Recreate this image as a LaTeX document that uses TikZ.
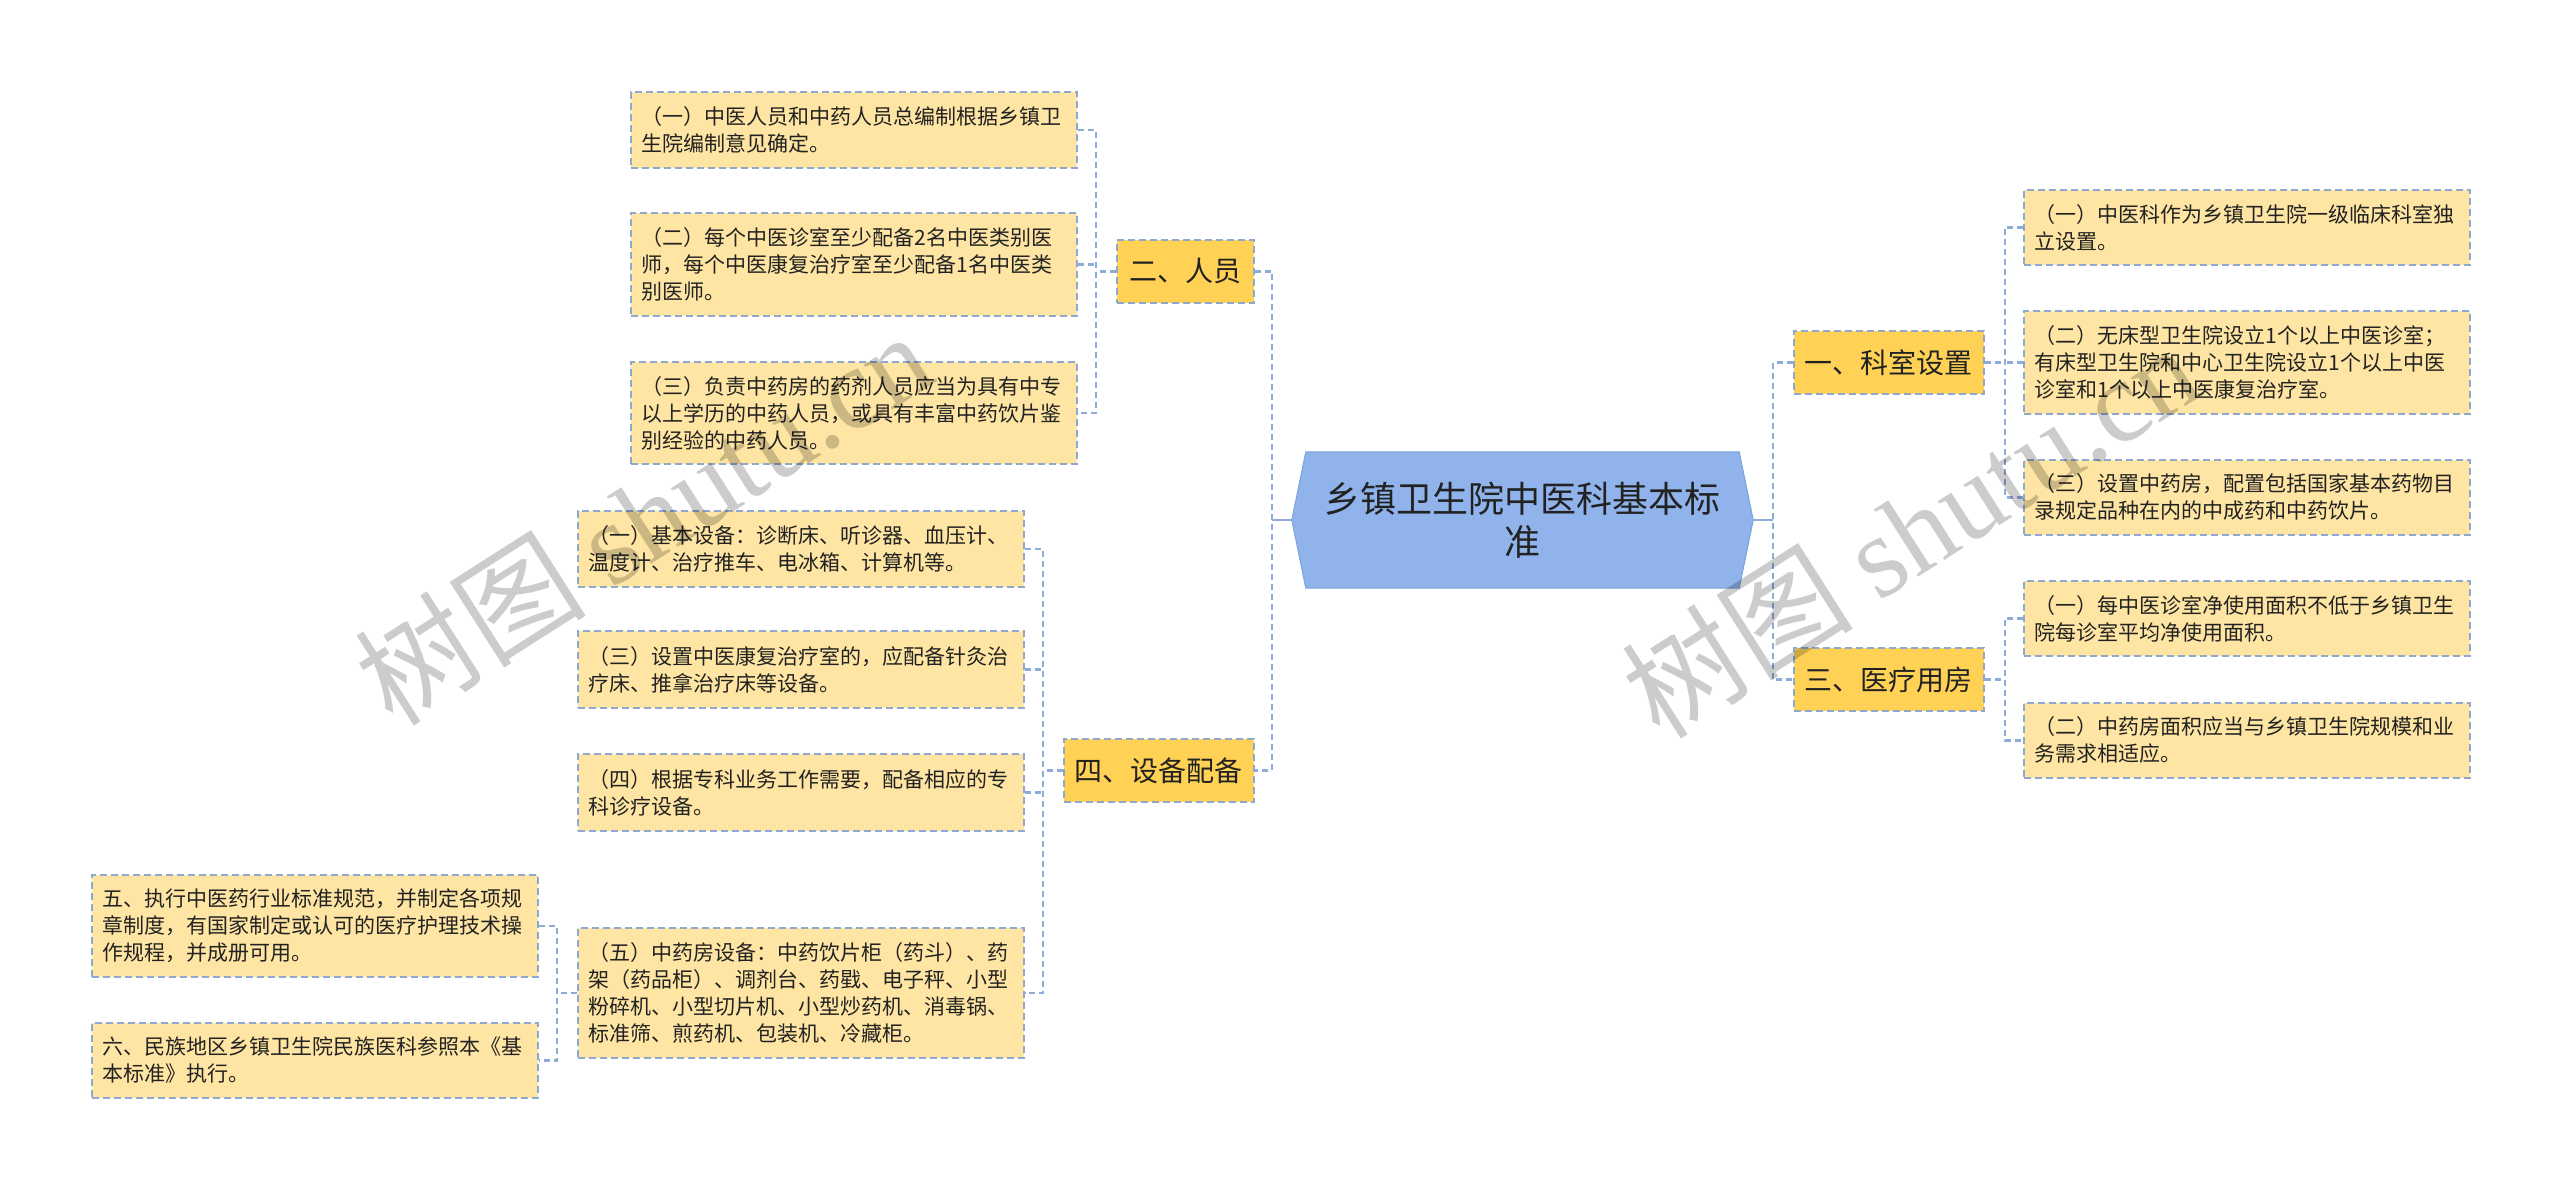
\documentclass[tikz,border=0pt]{standalone}
\usepackage{fontspec}
\setmainfont{Noto Sans CJK SC}
\newfontfamily\wmserif{Liberation Serif}
\usetikzlibrary{calc,backgrounds}
\definecolor{leaffill}{HTML}{FEE5A3}
\definecolor{nodefill}{HTML}{FFD255}
\definecolor{centerfill}{HTML}{8FB3EA}
\definecolor{centerline}{HTML}{7DA2DE}
\definecolor{bordc}{HTML}{8EA8D0}
\definecolor{connc}{HTML}{8FABD7}
\definecolor{txt}{HTML}{222222}
\begin{document}
\begin{tikzpicture}[x=1pt,y=-1pt,
 leafbox/.style={draw=bordc, line width=1.8pt, dash pattern=on 7pt off 4pt, fill=leaffill,
   anchor=north west, inner xsep=11pt, inner ysep=0pt, text width=424pt, align=left,
   minimum height=#1, font=\fontsize{21}{27}\selectfont, text=txt},
 topicbox/.style={draw=bordc, line width=1.8pt, dash pattern=on 7pt off 4pt, fill=nodefill,
   anchor=north west, inner sep=0pt, minimum width=#1, minimum height=63pt,
   font=\fontsize{28}{34}\selectfont, text=txt},
 conn/.style={draw=connc, line width=2.2pt, dash pattern=on 6pt off 4pt},
 hubconn/.style={draw=connc, line width=2.5pt},
 wm/.style={text=black, text opacity=0.2, rotate=32.5, inner sep=0pt}
]
\useasboundingbox (0,0) rectangle (2560,1189);

% centre
\node[inner sep=0pt, minimum width=461pt, minimum height=136pt, align=center,
  font=\fontsize{36}{43}\selectfont, text=txt] (H) at (1522.5,520) {乡镇卫生院中医科基本标\\准};
\begin{scope}[on background layer]
\draw[fill=centerfill, draw=centerline, line width=1pt]
  (H.west) -- ($(H.north west)+(14,0)$) -- ($(H.north east)+(-14,0)$) -- (H.east)
  -- ($(H.south east)+(-14,0)$) -- ($(H.south west)+(14,0)$) -- cycle;
\end{scope}

% topics
\node[topicbox=137pt] (P2) at (1116,239) {二、人员};
\node[topicbox=190pt] (P4) at (1063,738) {四、设备配备};
\node[topicbox=190pt] (P1) at (1793,330) {一、科室设置};
\node[topicbox=190pt] (P3) at (1793,647) {三、医疗用房};

% leaves of 二
\node[leafbox=76pt] (A1) at (630,91) {（一）中医人员和中药人员总编制根据乡镇卫\\生院编制意见确定。};
\node[leafbox=103pt] (A2) at (630,212) {（二）每个中医诊室至少配备2名中医类别医\\师，每个中医康复治疗室至少配备1名中医类\\别医师。};
\node[leafbox=102pt] (A3) at (630,361) {（三）负责中药房的药剂人员应当为具有中专\\以上学历的中药人员，或具有丰富中药饮片鉴\\别经验的中药人员。};

% leaves of 四
\node[leafbox=76pt] (B1) at (577,510) {（一）基本设备：诊断床、听诊器、血压计、\\温度计、治疗推车、电冰箱、计算机等。};
\node[leafbox=77pt] (B2) at (577,630) {（三）设置中医康复治疗室的，应配备针灸治\\疗床、推拿治疗床等设备。};
\node[leafbox=77pt] (B3) at (577,753) {（四）根据专科业务工作需要，配备相应的专\\科诊疗设备。};
\node[leafbox=130pt] (B4) at (577,927) {（五）中药房设备：中药饮片柜（药斗）、药\\架（药品柜）、调剂台、药戥、电子秤、小型\\粉碎机、小型切片机、小型炒药机、消毒锅、\\标准筛、煎药机、包装机、冷藏柜。};

% leaves of (五)
\node[leafbox=102pt] (C1) at (91,874) {五、执行中医药行业标准规范，并制定各项规\\章制度，有国家制定或认可的医疗护理技术操\\作规程，并成册可用。};
\node[leafbox=75pt] (C2) at (91,1022) {六、民族地区乡镇卫生院民族医科参照本《基\\本标准》执行。};

% leaves of 一
\node[leafbox=75pt] (D1) at (2023,189) {（一）中医科作为乡镇卫生院一级临床科室独\\立设置。};
\node[leafbox=103pt] (D2) at (2023,310) {（二）无床型卫生院设立1个以上中医诊室；\\有床型卫生院和中心卫生院设立1个以上中医\\诊室和1个以上中医康复治疗室。};
\node[leafbox=75pt] (D3) at (2023,459) {（三）设置中药房，配置包括国家基本药物目\\录规定品种在内的中成药和中药饮片。};

% leaves of 三
\node[leafbox=75pt] (E1) at (2023,580) {（一）每中医诊室净使用面积不低于乡镇卫生\\院每诊室平均净使用面积。};
\node[leafbox=75pt] (E2) at (2023,702) {（二）中药房面积应当与乡镇卫生院规模和业\\务需求相适应。};

% junction coordinates
\coordinate (jA) at ($(P2.west)+(-20,0)$);
\coordinate (jB) at ($(P4.west)+(-20,0)$);
\coordinate (jC) at ($(B4.west)+(-20,0)$);
\coordinate (jD) at ($(P1.east)+(20,0)$);
\coordinate (jE) at ($(P3.east)+(20,0)$);
\coordinate (jL) at ($(H.west)+(-20,0)$);
\coordinate (jR) at ($(H.east)+(20,0)$);

% connectors
\draw[conn] (A1.east) -- (A1.east -| jA) -- (A3.east -| jA) -- (A3.east);
\draw[conn] (A2.east) -- (A2.east -| jA);
\draw[conn] (P2.west) -- (jA);

\draw[conn] (B1.east) -- (B1.east -| jB) -- (B4.east -| jB) -- (B4.east);
\draw[conn] (B2.east) -- (B2.east -| jB);
\draw[conn] (B3.east) -- (B3.east -| jB);
\draw[conn] (P4.west) -- (jB);

\draw[conn] (C1.east) -- (C1.east -| jC) -- (C2.east -| jC) -- (C2.east);
\draw[conn] (B4.west) -- (jC);

\draw[conn] (D1.west) -- (D1.west -| jD) -- (D3.west -| jD) -- (D3.west);
\draw[conn] (D2.west) -- (D2.west -| jD);
\draw[conn] (P1.east) -- (jD);

\draw[conn] (E1.west) -- (E1.west -| jE) -- (E2.west -| jE) -- (E2.west);
\draw[conn] (P3.east) -- (jE);

\draw[conn] (P2.east) -- (P2.east -| jL) -- (P4.east -| jL) -- (P4.east);
\draw[hubconn] (H.west) -- (jL);
\draw[conn] (P1.west) -- (P1.west -| jR) -- (P3.west -| jR) -- (P3.west);
\draw[hubconn] (H.east) -- (jR);

% watermarks
\node[wm, font=\fontsize{116}{116}\selectfont] (W1) at (643,517) {树图 {\wmserif shutu.cn}};
\node[wm, font=\fontsize{116}{116}\selectfont] (W2) at (1910,530) {树图 {\wmserif shutu.cn}};
\end{tikzpicture}
\end{document}
